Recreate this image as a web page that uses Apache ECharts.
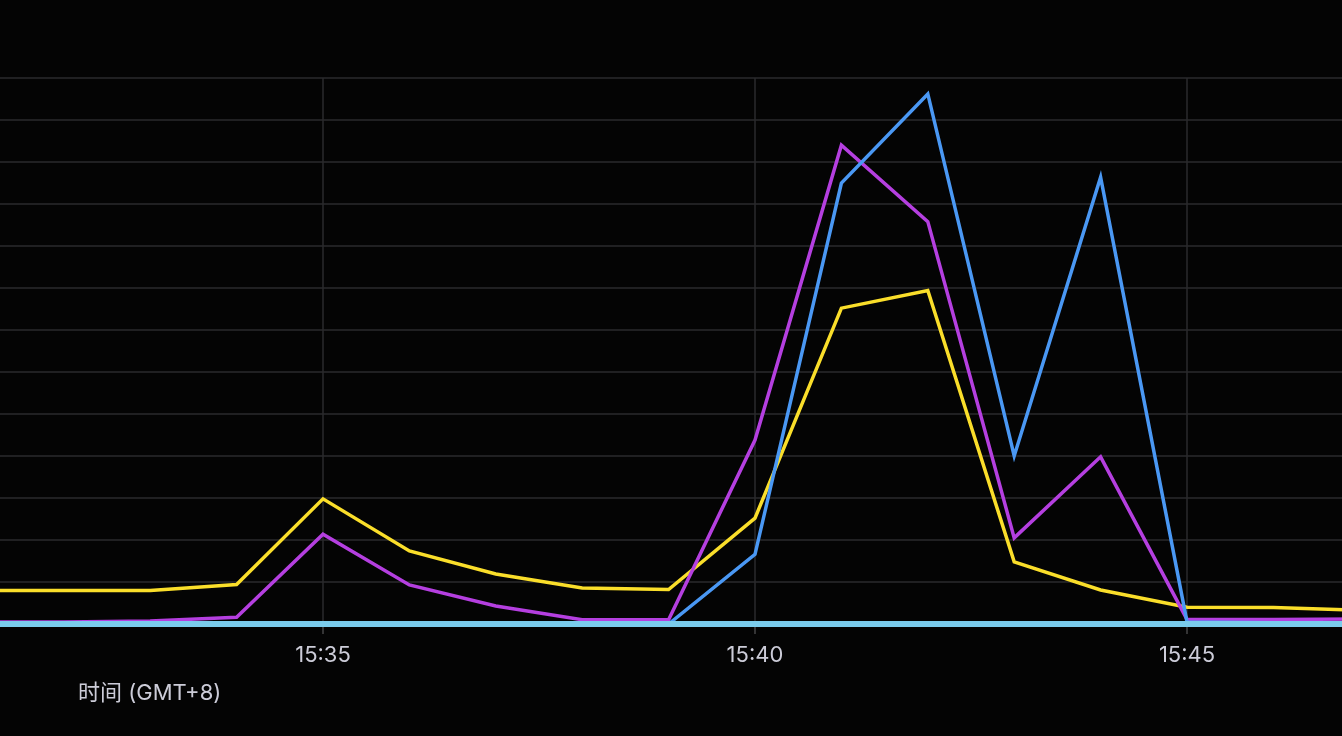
<!DOCTYPE html>
<html>
<head>
<meta charset="utf-8">
<script src="https://cdn.jsdelivr.net/npm/echarts@6/dist/echarts.min.js"></script>
<style>
html,body{margin:0;padding:0;background:#040404;overflow:hidden;width:1342px;height:736px;}
#wrap{position:relative;width:1342px;height:736px;overflow:hidden;}
#chart{position:absolute;left:-109px;top:0;width:1728px;height:736px;}
#title{position:absolute;left:78px;top:674px;color:#ccccd8;font:22px Inter,"Noto Sans CJK SC",sans-serif;white-space:nowrap;}
</style>
</head>
<body>
<div id="wrap">
<div id="chart"></div>
<div id="title"></div>
</div>
<script>
// Time stamps (GMT+8), one per minute
var times = ['15:31','15:32','15:33','15:34','15:35','15:36','15:37','15:38','15:39','15:40','15:41','15:42','15:43','15:44','15:45','15:46','15:47'];
// Series values (y axis has no visible labels; read in grid-line units)
var yellowValues = [0.80,0.80,0.80,0.94,2.98,1.74,1.19,0.86,0.82,2.52,7.52,7.94,1.48,0.81,0.40,0.39,0.33];
var purpleValues = [0.05,0.05,0.07,0.16,2.14,0.93,0.43,0.10,0.10,4.38,11.40,9.58,2.05,3.98,0.11,0.11,0.12];
var blueValues   = [0.02,0.02,0.02,0.02,0.02,0.02,0.02,0.02,0.00,1.66,10.50,12.62,4.00,10.64,0.05,0.03,0.03];
var lightBlueValues = [0,0,0,0,0,0,0,0,0,0,0,0,0,0,0,0,0];
// x axis tick labels (first and last fall outside the visible window)
var tickLabels = ['15:30','15:35','15:40','15:45','15:50'];
var axisTitle = '时间 (GMT+8)';

function toMin(t){ var p = t.split(':'); return (+p[0])*60 + (+p[1]); }
function pairs(vals){ return times.map(function(t,i){ return [toMin(t), vals[i]]; }); }
function fmt(v){ var h = Math.floor(v/60), m = Math.round(v - h*60); return h + ':' + (m<10?'0':'') + m; }

document.getElementById('title').textContent = axisTitle;

var textColor = '#ccccd8';
var gridColor = '#2a2a2c';

var chart = echarts.init(document.getElementById('chart'), null, {renderer:'canvas'});
function lineSeries(name, vals, color, width, clip){
  return {
    name: name, type: 'line', data: pairs(vals), showSymbol: false, symbol: 'none',
    clip: clip,
    lineStyle: {color: color, width: width, join: 'miter'}, itemStyle: {color: color},
    animation: false
  };
}
chart.setOption({
  backgroundColor: '#040404',
  animation: false,
  grid: {left: 0, right: 0, top: 78, bottom: 112, containLabel: false, outerBoundsMode: 'none'},
  xAxis: {
    type: 'value',
    min: toMin(tickLabels[0]),
    max: toMin(tickLabels[tickLabels.length-1]),
    interval: 5,
    axisLine: {show: true, lineStyle: {color: gridColor, width: 1.5}},
    axisTick: {show: true, length: 10, lineStyle: {color: '#444446', width: 1.5}},
    axisLabel: {color: textColor, fontSize: 22, fontFamily: 'Inter, "Noto Sans CJK SC", sans-serif', margin: 20, formatter: function(v){ return fmt(v); }},
    splitLine: {show: true, lineStyle: {color: gridColor, width: 1.5}}
  },
  yAxis: {
    type: 'value', min: 0, max: 13, interval: 1,
    axisLine: {show: false}, axisTick: {show: false}, axisLabel: {show: false},
    splitLine: {show: true, lineStyle: {color: gridColor, width: 1.5}}
  },
  series: [
    lineSeries('yellow', yellowValues, '#fade2a', 3.5, true),
    lineSeries('purple', purpleValues, '#b53fe0', 3.5, true),
    lineSeries('blue', blueValues, '#4a98f4', 3.5, true),
    lineSeries('lightblue', lightBlueValues, '#7accec', 6, false)
  ]
});
</script>
</body>
</html>
